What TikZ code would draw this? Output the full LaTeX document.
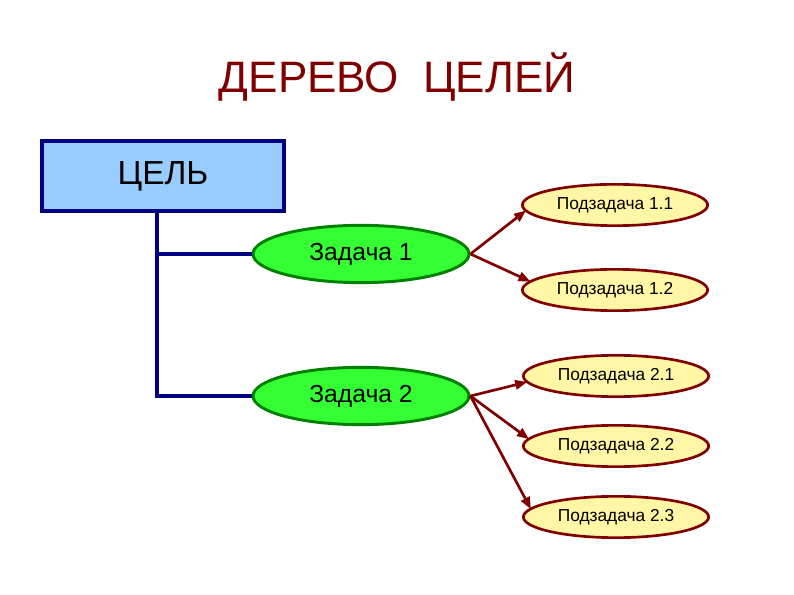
\documentclass[tikz,border=0pt]{standalone}
\usepackage{fontspec}
\setmainfont{Liberation Sans}
\usetikzlibrary{shapes.geometric,arrows.meta}
\definecolor{titlered}{HTML}{800000}
\definecolor{boxblue}{HTML}{99CCFF}
\definecolor{navy}{HTML}{000080}
\definecolor{lgreen}{HTML}{33FF33}
\definecolor{dgreen}{HTML}{008000}
\definecolor{pyellow}{HTML}{FFF6A6}
\definecolor{dred}{HTML}{800000}
\tikzset{
  goalbox/.style={draw=navy, fill=boxblue, line width=3pt, minimum width=181pt, minimum height=52pt, inner sep=0pt, font=\fontsize{25}{28}\selectfont},
  taskell/.style={ellipse, draw=dgreen, fill=lgreen, line width=2.2pt, minimum width=162pt, minimum height=43pt, inner sep=0pt, font=\fontsize{18.5}{20}\selectfont},
  subell/.style={ellipse, draw=dred, fill=pyellow, line width=2pt, minimum width=139pt, minimum height=31pt, inner sep=0pt, font=\fontsize{13}{15}\selectfont},
  trunk/.style={draw=navy, line width=3pt},
  arr/.style={draw=dred, line width=2pt, -{Triangle[length=9pt,width=7pt]}, shorten >=-1pt}
}
\begin{document}
\begin{tikzpicture}[x=0.75pt, y=-0.75pt]
\useasboundingbox (0,0) rectangle (794,595);
\node[text=titlered, font=\fontsize{33}{36}\selectfont] (title) at (397,77) {ДЕРЕВО\ \ ЦЕЛЕЙ};
\node[goalbox] (goal) at (163,176) {ЦЕЛЬ};
\node[taskell] (z1) at (361,254) {Задача 1};
\node[taskell] (z2) at (361,396) {Задача 2};
\node[subell] (s11) at (615,205) {Подзадача 1.1};
\node[subell] (s12) at (615,290) {Подзадача 1.2};
\node[subell] (s21) at (616,376) {Подзадача 2.1};
\node[subell] (s22) at (616,446) {Подзадача 2.2};
\node[subell] (s23) at (616,517) {Подзадача 2.3};
\coordinate (j) at (157,211);
\draw[trunk] (j) |- (z1.west);
\draw[trunk] (j) |- (z2.west);
\draw[arr] (z1.east) -- (s11.184);
\draw[arr] (z1.east) -- (s12.174);
\draw[arr] (z2.east) -- (s21.184);
\draw[arr] (z2.east) -- (s22.175);
\draw[arr] (z2.east) -- (s23.174);
\end{tikzpicture}
\end{document}
